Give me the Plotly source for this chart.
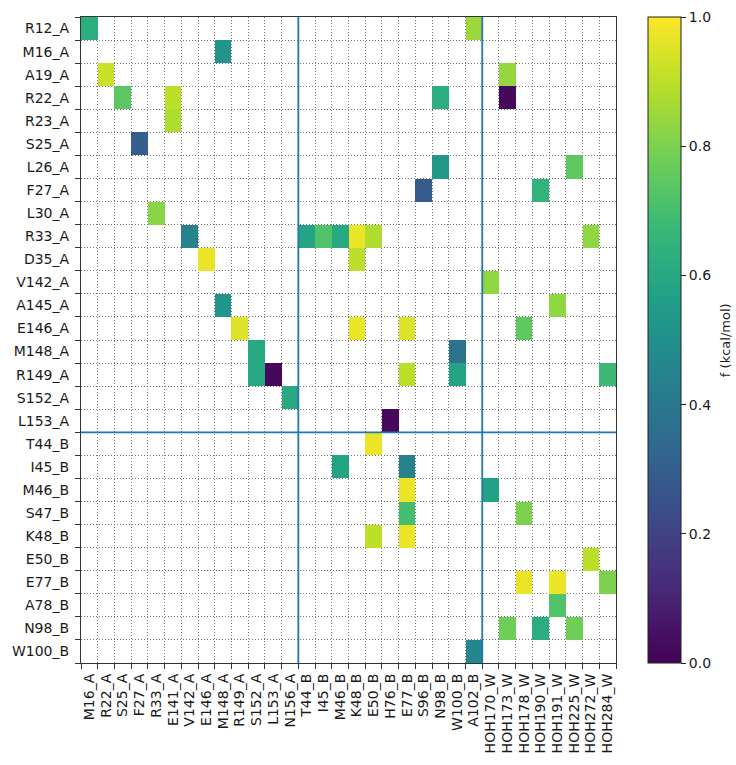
import numpy as np
import plotly.graph_objects as go

row_labels = ["R12_A", "M16_A", "A19_A", "R22_A", "R23_A", "S25_A", "L26_A", "F27_A",
              "L30_A", "R33_A", "D35_A", "V142_A", "A145_A", "E146_A", "M148_A", "R149_A",
              "S152_A", "L153_A", "T44_B", "I45_B", "M46_B", "S47_B", "K48_B", "E50_B",
              "E77_B", "A78_B", "N98_B", "W100_B"]

col_labels = ["M16_A", "R22_A", "S25_A", "F27_A", "R33_A", "E141_A", "V142_A", "E146_A",
              "M148_A", "R149_A", "S152_A", "L153_A", "N156_A", "T44_B", "I45_B", "M46_B",
              "K48_B", "E50_B", "H76_B", "E77_B", "S96_B", "N98_B", "W100_B", "A102_B",
              "HOH170_W", "HOH173_W", "HOH178_W", "HOH190_W", "HOH191_W", "HOH225_W",
              "HOH272_W", "HOH284_W"]

# non-empty cells: (row label, column label, value)
cell_rows = ["R12_A", "R12_A",
             "M16_A",
             "A19_A", "A19_A",
             "R22_A", "R22_A", "R22_A", "R22_A",
             "R23_A",
             "S25_A",
             "L26_A", "L26_A",
             "F27_A", "F27_A",
             "L30_A",
             "R33_A", "R33_A", "R33_A", "R33_A", "R33_A", "R33_A", "R33_A",
             "D35_A", "D35_A",
             "V142_A",
             "A145_A", "A145_A",
             "E146_A", "E146_A", "E146_A", "E146_A",
             "M148_A", "M148_A",
             "R149_A", "R149_A", "R149_A", "R149_A", "R149_A",
             "S152_A",
             "L153_A",
             "T44_B",
             "I45_B", "I45_B",
             "M46_B", "M46_B",
             "S47_B", "S47_B",
             "K48_B", "K48_B",
             "E50_B",
             "E77_B", "E77_B", "E77_B",
             "A78_B",
             "N98_B", "N98_B", "N98_B",
             "W100_B"]
cell_cols = ["M16_A", "A102_B",
             "M148_A",
             "R22_A", "HOH173_W",
             "S25_A", "E141_A", "N98_B", "HOH173_W",
             "E141_A",
             "F27_A",
             "N98_B", "HOH225_W",
             "S96_B", "HOH190_W",
             "R33_A",
             "V142_A", "T44_B", "I45_B", "M46_B", "K48_B", "E50_B", "HOH272_W",
             "E146_A", "K48_B",
             "HOH170_W",
             "M148_A", "HOH191_W",
             "R149_A", "K48_B", "E77_B", "HOH178_W",
             "S152_A", "W100_B",
             "S152_A", "L153_A", "E77_B", "W100_B", "HOH284_W",
             "N156_A",
             "H76_B",
             "E50_B",
             "M46_B", "E77_B",
             "E77_B", "HOH170_W",
             "E77_B", "HOH178_W",
             "E50_B", "E77_B",
             "HOH272_W",
             "HOH178_W", "HOH191_W", "HOH284_W",
             "HOH191_W",
             "HOH173_W", "HOH190_W", "HOH225_W",
             "A102_B"]
cell_vals = [0.62, 0.85,
             0.52,
             0.92, 0.84,
             0.74, 0.90, 0.62, 0.02,
             0.88,
             0.30,
             0.53, 0.75,
             0.28, 0.65,
             0.82,
             0.45, 0.58, 0.72, 0.60, 0.97, 0.88, 0.83,
             0.97, 0.90,
             0.83,
             0.52, 0.83,
             0.95, 0.97, 0.95, 0.75,
             0.60, 0.38,
             0.60, 0.02, 0.90, 0.58, 0.68,
             0.60,
             0.02,
             0.97,
             0.58, 0.45,
             0.97, 0.57,
             0.70, 0.80,
             0.90, 0.97,
             0.90,
             0.97, 0.97, 0.80,
             0.72,
             0.78, 0.62, 0.78,
             0.46]

n_rows, n_cols = len(row_labels), len(col_labels)
z = np.full((n_rows, n_cols), np.nan)
for r, c, v in zip(cell_rows, cell_cols, cell_vals):
    z[row_labels.index(r), col_labels.index(c)] = v

font_family = "DejaVu Sans"
txt = "#1a1a1a"
fs = 14

fig = go.Figure(go.Heatmap(
    z=z, x=list(range(n_cols)), y=list(range(n_rows)),
    colorscale="Viridis", zmin=0, zmax=1, hoverongaps=False,
    colorbar=dict(
        thickness=33, len=1.0, lenmode="fraction", y=0.5, yanchor="middle",
        x=1.06, xanchor="left", xpad=0, ypad=0,
        outlinewidth=1, outlinecolor="#222",
        tickvals=[0, 0.2, 0.4, 0.6, 0.8, 1.0], ticktext=["0.0", "0.2", "0.4", "0.6", "0.8", "1.0"],
        ticks="outside", ticklen=5, tickcolor="#222",
        tickfont=dict(size=fs, color=txt, family=font_family),
    ),
))

fig.add_annotation(
    text="f (kcal/mol)", textangle=-90, x=1.204, y=0.5, xref="paper", yref="paper",
    xanchor="center", yanchor="middle", showarrow=False,
    font=dict(size=13, color=txt, family=font_family),
)

# separator lines between chains / water
a_count = sum(1 for l in row_labels if l.endswith("_A"))
col_a = sum(1 for l in col_labels if l.endswith("_A"))
col_ab = sum(1 for l in col_labels if not l.endswith("_W"))
blue = "#1f77b4"
for xv in [col_a - 0.5, col_ab - 0.5]:
    fig.add_shape(type="line", x0=xv, x1=xv, y0=-0.5, y1=n_rows - 0.5,
                  xref="x", yref="y", line=dict(color=blue, width=1.8), layer="above")
fig.add_shape(type="line", x0=-0.5, x1=n_cols - 0.5, y0=a_count - 0.5, y1=a_count - 0.5,
              xref="x", yref="y", line=dict(color=blue, width=1.8), layer="above")

axis_common = dict(
    showgrid=False, zeroline=False,
    showline=True, linecolor="#333", linewidth=1.3, mirror=True,
    ticks="", tickfont=dict(size=fs, color=txt, family=font_family),
)
grid_style = dict(showgrid=True, gridcolor="#7a7a7a", griddash="1px,2px", gridwidth=1)
fig.update_xaxes(
    **axis_common,
    range=[-0.5, n_cols - 0.5],
    tickmode="array", tickvals=list(range(n_cols)), ticktext=col_labels, tickangle=-90,
    ticklabelstandoff=4,
    minor=dict(tick0=-0.5, dtick=1, ticks="outside", ticklen=5, tickcolor="#333", **grid_style),
)
fig.update_yaxes(
    **axis_common,
    range=[n_rows - 0.5, -0.5],
    tickmode="array", tickvals=list(range(n_rows)), ticktext=row_labels,
    ticklabelstandoff=8,
    minor=dict(tick0=-0.5, dtick=1, ticks="outside", ticklen=5, tickcolor="#333", **grid_style),
)

fig.update_layout(
    width=736, height=765,
    margin=dict(l=81, r=120, t=17, b=97),
    paper_bgcolor="white", plot_bgcolor="white",
    font=dict(family=font_family, color=txt, size=fs),
    showlegend=False,
)

fig.write_html("out.html")
